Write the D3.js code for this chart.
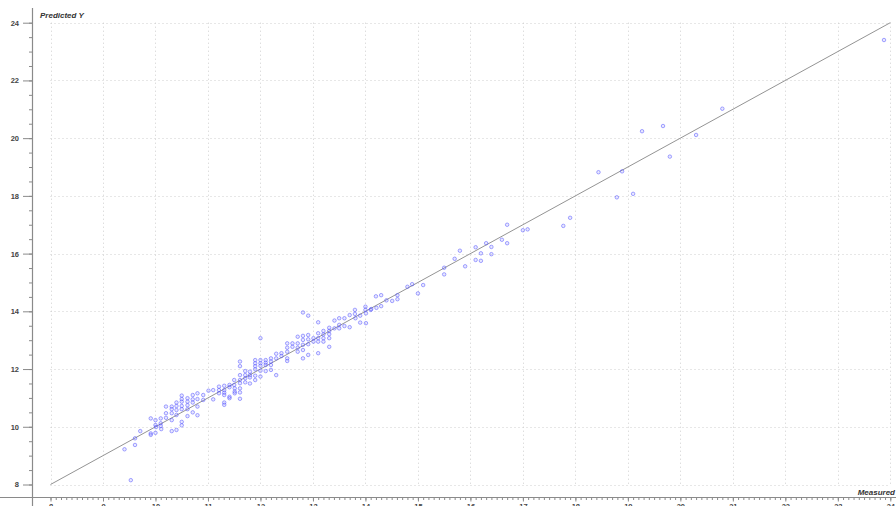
<!DOCTYPE html>
<html>
<head>
<meta charset="utf-8">
<script src="https://cdn.jsdelivr.net/npm/d3@7"></script>
<style>
  html, body { margin: 0; padding: 0; background: #fff; }
  svg { display: block; }
  text { font-family: "Liberation Sans", Arial, sans-serif; }
</style>
</head>
<body>
<svg id="chart" width="896" height="506"></svg>
<script>
// Measured vs predicted values
const measured = [
  9.53, 9.41, 9.61, 9.61, 9.71, 9.91, 9.91, 9.91, 10.00, 10.00, 10.00, 10.01, 10.10, 10.10, 10.10, 10.11,
  10.20, 10.20, 10.20, 10.31, 10.31, 10.31, 10.31, 10.31, 10.40, 10.40, 10.40, 10.40, 10.40,
  10.50, 10.50, 10.50, 10.50, 10.50, 10.50, 10.50, 10.61, 10.61, 10.61, 10.61, 10.61,
  10.71, 10.71, 10.71, 10.71, 10.80, 10.80, 10.80, 10.80, 10.91, 10.91, 11.01, 11.10, 11.10,
  11.21, 11.21, 11.21, 11.31, 11.31, 11.31, 11.31, 11.31, 11.31, 11.41, 11.41, 11.41, 11.41,
  11.50, 11.50, 11.51, 11.51, 11.51, 11.61, 11.61, 11.61, 11.61, 11.61, 11.61, 11.61, 11.61,
  11.71, 11.71, 11.71, 11.71, 11.80, 11.80, 11.80, 11.80, 11.90, 11.90, 11.90, 11.90, 11.90, 11.90,
  12.00, 12.00, 12.00, 12.00, 12.00, 12.00, 12.10, 12.10, 12.10, 12.10, 12.20, 12.20, 12.20, 12.20,
  12.30, 12.30, 12.30, 12.40, 12.40, 12.51, 12.51, 12.51, 12.51, 12.51, 12.61, 12.61,
  12.71, 12.71, 12.71, 12.71, 12.81, 12.81, 12.81, 12.81, 12.81, 12.81,
  12.91, 12.91, 12.91, 12.91, 12.91, 13.01, 13.01, 13.10, 13.10, 13.10, 13.10, 13.10,
  13.20, 13.20, 13.20, 13.20, 13.31, 13.31, 13.31, 13.31, 13.31, 13.41, 13.41, 13.50, 13.50, 13.50,
  13.60, 13.60, 13.70, 13.70, 13.80, 13.80, 13.81, 13.90, 13.90, 14.00, 14.00, 14.01, 14.01,
  14.10, 14.11, 14.20, 14.21, 14.30, 14.30, 14.40, 14.51, 14.61, 14.61, 14.80, 14.89, 15.00, 15.10,
  15.50, 15.50, 15.70, 15.80, 15.90, 16.10, 16.10, 16.20, 16.20, 16.30, 16.40, 16.40, 16.60,
  16.70, 16.70, 17.00, 17.09, 17.77, 17.90, 18.44, 18.79, 18.89, 19.10, 19.27, 19.67, 19.80,
  20.30, 20.80, 23.88
];
const predicted = [
  8.15, 9.22, 9.37, 9.60, 9.85, 10.29, 9.77, 9.72, 10.23, 10.06, 9.79, 9.99, 10.29, 10.12, 10.03, 9.92,
  10.70, 10.47, 10.31, 10.70, 10.61, 10.47, 10.23, 9.85, 10.84, 10.72, 10.58, 10.41, 9.89,
  11.08, 10.96, 10.87, 10.72, 10.61, 10.17, 10.05, 10.99, 10.87, 10.75, 10.61, 10.37,
  11.10, 10.95, 10.84, 10.50, 11.16, 10.96, 10.70, 10.40, 11.10, 10.93, 11.25, 11.27, 10.95,
  11.39, 11.27, 11.16, 11.42, 11.27, 11.18, 11.10, 10.84, 10.76, 11.45, 11.37, 11.04, 10.99,
  11.62, 11.45, 11.33, 11.22, 11.16, 12.26, 12.10, 11.79, 11.62, 11.51, 11.33, 11.19, 10.97,
  11.93, 11.79, 11.68, 11.54, 11.91, 11.79, 11.71, 11.50, 12.31, 12.20, 12.10, 11.99, 11.77, 11.62,
  13.07, 12.31, 12.20, 12.11, 11.94, 11.74, 12.31, 12.22, 12.14, 11.93, 12.37, 12.26, 12.14, 11.97,
  12.53, 12.37, 11.79, 12.55, 12.45, 12.89, 12.74, 12.60, 12.37, 12.28, 12.89, 12.77,
  13.12, 12.89, 12.74, 12.60, 13.96, 13.15, 13.01, 12.84, 12.66, 12.37,
  13.85, 13.18, 13.03, 12.86, 12.49, 13.07, 12.95, 13.62, 13.24, 13.07, 12.95, 12.55,
  13.32, 13.20, 13.07, 12.95, 13.43, 13.32, 13.21, 13.07, 12.77, 13.68, 13.41, 13.76, 13.53, 13.41,
  13.76, 13.49, 13.87, 13.45, 14.05, 13.91, 13.76, 13.85, 13.61, 14.16, 14.05, 13.93, 13.59,
  14.05, 14.08, 14.52, 14.12, 14.56, 14.18, 14.38, 14.36, 14.56, 14.42, 14.85, 14.94, 14.62, 14.91,
  15.51, 15.28, 15.82, 16.10, 15.56, 16.22, 15.78, 16.01, 15.75, 16.36, 16.23, 15.98, 16.48,
  17.00, 16.36, 16.81, 16.84, 16.96, 17.24, 18.82, 17.95, 18.85, 18.07, 20.24, 20.42, 19.36,
  20.11, 21.02, 23.40
];

// Axis ticks
const xMajorTicks = d3.range(8, 25, 1);
const xMinorTicks = d3.range(80, 241, 1).map(v => v / 10);
const yMajorTicks = [8, 10, 12, 14, 16, 18, 20, 22, 24];
const yMinorTicks = d3.range(16, 49, 1).map(v => v / 2);
const identityLine = [8, 24];

const xTitle = "Measured";
const yTitle = "Predicted Y";

const svg = d3.select("#chart");
const W = 896, H = 506;

const x = d3.scaleLinear().domain([8, 24]).range([50.5, 890.3]);
const y = d3.scaleLinear().domain([8, 24]).range([484.5, 22.7]);

const yAxisX = 32;
const xAxisY = 497.5;

// Dotted grid
const grid = svg.append("g").attr("class", "grid");
grid.selectAll("line.v").data(xMajorTicks).join("line")
  .attr("class", "v")
  .attr("x1", d => Math.round(x(d)) + 0.5).attr("x2", d => Math.round(x(d)) + 0.5)
  .attr("y1", y(24)).attr("y2", y(8))
  .attr("stroke", "#cfcfcf").attr("stroke-width", 1).attr("stroke-dasharray", "1,3");
grid.selectAll("line.h").data(yMajorTicks).join("line")
  .attr("class", "h")
  .attr("x1", x(8)).attr("x2", x(24))
  .attr("y1", d => Math.round(y(d)) + 0.5).attr("y2", d => Math.round(y(d)) + 0.5)
  .attr("stroke", "#cfcfcf").attr("stroke-width", 1).attr("stroke-dasharray", "1,3");

// Y axis
const yMinor = d3.axisLeft(y).tickValues(yMinorTicks).tickSize(3).tickFormat("");
const yMajor = d3.axisLeft(y).tickValues(yMajorTicks).tickSize(9).tickPadding(4).tickFormat(d3.format("d"));
const gyMinor = svg.append("g").attr("transform", `translate(${yAxisX},0)`).call(yMinor);
const gyMajor = svg.append("g").attr("transform", `translate(${yAxisX},0)`).call(yMajor);
[gyMinor, gyMajor].forEach(g => {
  g.select(".domain").remove();
  g.selectAll(".tick line").attr("stroke", "#8a8a8a");
});
gyMajor.selectAll(".tick text")
  .attr("font-size", 7.5).attr("font-weight", "bold").attr("fill", "#444");

svg.append("line")
  .attr("x1", yAxisX + 0.5).attr("x2", yAxisX + 0.5)
  .attr("y1", 8).attr("y2", H)
  .attr("stroke", "#8a8a8a").attr("stroke-width", 1.2);

// X axis
const xMinor = d3.axisBottom(x).tickValues(xMinorTicks).tickSize(2.5).tickFormat("");
const xMajor = d3.axisBottom(x).tickValues(xMajorTicks).tickSize(4).tickPadding(2).tickFormat(d3.format("d"));
const gxMinor = svg.append("g").attr("transform", `translate(0,${xAxisY})`).call(xMinor);
const gxMajor = svg.append("g").attr("transform", `translate(0,${xAxisY})`).call(xMajor);
[gxMinor, gxMajor].forEach(g => {
  g.select(".domain").remove();
  g.selectAll(".tick line").attr("stroke", "#8a8a8a");
});
gxMajor.selectAll(".tick text")
  .attr("font-size", 7.5).attr("font-weight", "bold").attr("fill", "#444");

svg.append("line")
  .attr("x1", 0).attr("x2", W)
  .attr("y1", xAxisY).attr("y2", xAxisY)
  .attr("stroke", "#8a8a8a").attr("stroke-width", 1.2);

// Identity line
svg.append("line")
  .attr("x1", x(identityLine[0])).attr("y1", y(identityLine[0]))
  .attr("x2", x(identityLine[1])).attr("y2", y(identityLine[1]))
  .attr("stroke", "#949494").attr("stroke-width", 1);

// Points
const pts = measured.map((m, i) => ({ m, p: predicted[i] }));
svg.append("g").selectAll("circle").data(pts).join("circle")
  .attr("cx", d => x(d.m))
  .attr("cy", d => y(d.p))
  .attr("r", 1.75)
  .attr("fill", "rgba(140,140,255,0.2)")
  .attr("stroke", "#5050ff")
  .attr("stroke-opacity", 0.6)
  .attr("stroke-width", 0.85);

// Axis titles
svg.append("text")
  .attr("x", 40).attr("y", 18)
  .attr("font-size", 8).attr("font-weight", "bold").attr("font-style", "italic")
  .attr("fill", "#333")
  .text(yTitle);
svg.append("text")
  .attr("x", 895).attr("y", 494.5)
  .attr("text-anchor", "end")
  .attr("font-size", 8).attr("font-weight", "bold").attr("font-style", "italic")
  .attr("fill", "#333")
  .text(xTitle);
</script>
</body>
</html>
